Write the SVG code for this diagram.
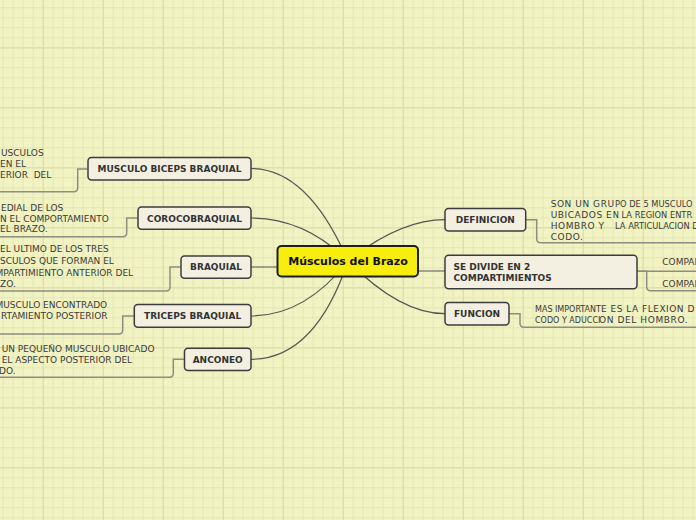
<svg xmlns="http://www.w3.org/2000/svg" width="696" height="520" viewBox="0 0 696 520">
<defs>
<pattern id="minor" x="2.7" y="7.3" width="10" height="10" patternUnits="userSpaceOnUse">
<path d="M0.5 0V10M0 0.5H10" fill="none" stroke="#e4e7b5" stroke-width="1"/>
</pattern>
<pattern id="major" x="42.7" y="47.3" width="60" height="60" patternUnits="userSpaceOnUse">
<path d="M0.5 0V60M0 0.5H60" fill="none" stroke="#dadda8" stroke-width="1"/>
</pattern>
<style>
.node rect{fill:#f3f0e2;stroke:#3c3c3c;stroke-width:1.5}
.lbl{font-family:"DejaVu Sans",Verdana,sans-serif;font-weight:bold;font-size:9px;fill:#333;text-anchor:middle}
.sub{font-family:"DejaVu Sans",Verdana,sans-serif;font-size:9px;fill:#3a3a3a;white-space:pre}
.sp{letter-spacing:0.55px}
.sub8{font-family:"DejaVu Sans",Verdana,sans-serif;font-size:8.3px;fill:#3a3a3a;white-space:pre}
.main{fill:none;stroke:#555;stroke-width:1.2}
.elb{fill:none;stroke:#8e8e80;stroke-width:1.5}
</style>
</defs>
<rect width="696" height="520" fill="#f1f3c2"/>
<rect width="696" height="520" fill="url(#minor)"/>
<rect width="696" height="520" fill="url(#major)"/>

<g id="connectors">
<path class="main" d="M251 168.5Q308 168.5 348 261"/>
<path class="main" d="M251 218Q305 218 348 261"/>
<path class="main" d="M251 267H290"/>
<path class="main" d="M251 316Q305 316 348 261"/>
<path class="main" d="M251 359.3Q315 359.3 348 261"/>
<path class="main" d="M445 219.7Q400 219.7 348 261"/>
<path class="main" d="M410 271H445"/>
<path class="main" d="M445 313.7Q400 313.7 348 261"/>
<path class="elb" d="M87.3 169H77.7V187.7Q77.7 191.7 73.7 191.7H0"/>
<path class="elb" d="M137.7 218H126.7V232.7Q126.7 236.7 122.7 236.7H0"/>
<path class="elb" d="M180.7 267H170V287Q170 291 166 291H0"/>
<path class="elb" d="M134 316H122.7V330Q122.7 334 118.7 334H0"/>
<path class="elb" d="M184.3 359.3H173.3V373.3Q173.3 377.3 169.3 377.3H0"/>
<path class="elb" d="M525.7 219.7H536.7V238.7Q536.7 242.7 540.7 242.7H696"/>
<path class="elb" d="M637 271.2H696"/>
<path class="elb" d="M637 271.2H646.7V286.7Q646.7 290.7 650.7 290.7H696"/>
<path class="elb" d="M509 313.7H520V323.3Q520 327.3 524 327.3H696"/>
</g>

<g id="center">
<rect x="277.5" y="246" width="140.5" height="30.5" rx="4" fill="#f7ee0e" stroke="#1e1e1e" stroke-width="2"/>
<text x="348" y="264.8" text-anchor="middle" font-family="'DejaVu Sans',Verdana,sans-serif" font-weight="bold" font-size="11" fill="#111">Músculos del Brazo</text>
</g>

<g id="biceps" class="node">
<rect x="88" y="157.5" width="163" height="22.5" rx="3.5"/>
<text class="lbl" x="169.5" y="172">MUSCULO BICEPS BRAQUIAL</text>
</g>
<g id="biceps-text">
<text class="sub" x="1" y="155.5">USCULOS</text>
<text class="sub" x="0" y="166.8">EN EL</text>
<text class="sub" x="0" y="178">ERIOR  DEL</text>
</g>

<g id="coroco" class="node">
<rect x="138" y="207" width="113" height="22.3" rx="3.5"/>
<text class="lbl" x="194.5" y="221.5">COROCOBRAQUIAL</text>
</g>
<g id="coroco-text">
<text class="sub" x="1" y="210.5">EDIAL DE LOS</text>
<text class="sub" x="0" y="221.5">N EL COMPORTAMIENTO</text>
<text class="sub" x="0" y="231.8">EL BRAZO.</text>
</g>

<g id="braquial" class="node">
<rect x="181" y="256" width="70" height="22.3" rx="3.5"/>
<text class="lbl" x="216" y="270.3">BRAQUIAL</text>
</g>
<g id="braquial-text">
<text class="sub" x="0" y="252.3">EL ULTIMO DE LOS TRES</text>
<text class="sub" x="0" y="264">SCULOS QUE FORMAN EL</text>
<text class="sub" x="-4.5" y="275.5">MPARTIMIENTO ANTERIOR DEL</text>
<text class="sub" x="0" y="286.5">ZO.</text>
</g>

<g id="triceps" class="node">
<rect x="134.3" y="304.5" width="116.7" height="22.7" rx="3.5"/>
<text class="lbl" x="192.6" y="319">TRICEPS BRAQUIAL</text>
</g>
<g id="triceps-text">
<text class="sub" x="-4.5" y="307.5">MUSCULO ENCONTRADO</text>
<text class="sub" x="1" y="319">RTAMIENTO POSTERIOR</text>
</g>

<g id="anconeo" class="node">
<rect x="184.5" y="348.2" width="66.5" height="22.3" rx="3.5"/>
<text class="lbl" x="217.7" y="362.6">ANCONEO</text>
</g>
<g id="anconeo-text">
<text class="sub" x="1.7" y="351.5">UN PEQUEÑO MUSCULO UBICADO</text>
<text class="sub" x="1.7" y="362.5">EL ASPECTO POSTERIOR DEL</text>
<text class="sub" x="-1" y="373.5">DO.</text>
</g>

<g id="definicion" class="node">
<rect x="445" y="208.5" width="80.7" height="22.5" rx="3.5"/>
<text class="lbl" x="485.3" y="223">DEFINICION</text>
</g>
<g id="definicion-text">
<text class="sub sp" x="550.7" y="206.5">SON UN GRU</text>
<text class="sub8" x="615" y="206.5">PO DE 5 MUSCULO</text>
<text class="sub sp" x="550.7" y="217.5">UBICADOS E</text>
<text class="sub8" x="612.7" y="217.5">N LA REGION ENTR</text>
<text class="sub sp" x="550.7" y="228.5">HOMBRO Y</text>
<text class="sub8" x="615" y="228.5">LA ARTICULACION D</text>
<text class="sub sp" x="550.7" y="239.5">CODO.</text>
</g>

<g id="divide" class="node">
<rect x="445" y="255.2" width="192" height="33.5" rx="3.5"/>
<text class="lbl" x="453.5" y="269.5" style="text-anchor:start">SE DIVIDE EN 2</text>
<text class="lbl" x="453.5" y="281" style="text-anchor:start">COMPARTIMIENTOS</text>
</g>
<g id="divide-text">
<text class="sub" x="662.3" y="265">COMPAR</text>
<text class="sub" x="662.3" y="286.5">COMPAR</text>
</g>

<g id="funcion" class="node">
<rect x="445" y="302.5" width="64" height="22.5" rx="3.5"/>
<text class="lbl" x="477" y="317">FUNCION</text>
</g>
<g id="funcion-text">
<text class="sub" x="535" y="311.5" style="font-size:8px">MAS IMPORTANT</text>
<text class="sub" x="601" y="311.5" style="letter-spacing:0.5px">E ES LA FLEXION D</text>
<text class="sub" x="535" y="322.5" style="font-size:8px">CODO Y ADUCCI</text>
<text class="sub" x="599" y="322.5" style="letter-spacing:0.6px">ON DEL HOMBRO.</text>
</g>
</svg>
